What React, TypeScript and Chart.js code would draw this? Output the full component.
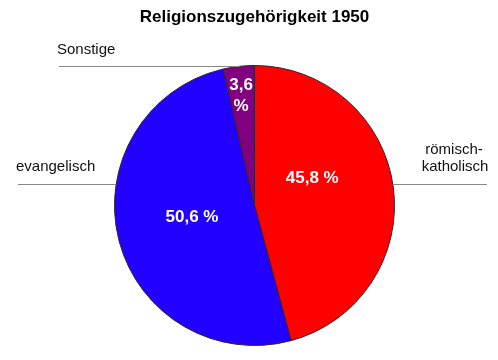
import React, { useEffect, useRef } from "react";
import { Chart, registerables } from "chart.js";

Chart.register(...registerables);

const titleText = "Religionszugehörigkeit 1950";
const categories = ["römisch-katholisch", "evangelisch", "Sonstige"];
const values = [45.8, 50.6, 3.6];
const valueLabels = ["45,8 %", "50,6 %", "3,6\n%"];
const colors = ["#ff0000", "#2200ff", "#800080"];

const FONT = "'Liberation Sans', Arial, Helvetica, sans-serif";

const overlay = {
  id: "overlay",
  afterDraw(chart: any) {
    const ctx = chart.ctx as CanvasRenderingContext2D;
    const meta = chart.getDatasetMeta(0);
    const arcs = meta.data as any[];
    const cx = arcs[0].x;
    const cy = arcs[0].y;
    const R = arcs[0].outerRadius;
    ctx.save();
    // title
    ctx.fillStyle = "#000";
    ctx.font = `bold 17px ${FONT}`;
    ctx.textAlign = "center";
    ctx.textBaseline = "middle";
    ctx.fillText(titleText, cx, 17);

    // in-slice value labels
    ctx.fillStyle = "#fff";
    ctx.font = `bold 17px ${FONT}`;
    const labelPos = [
      { ang: 65, dist: 0.455 },
      { ang: 259, dist: 0.455 },
      { ang: 353, dist: 0.79 },
    ];
    arcs.forEach((arc, i) => {
      const a = (labelPos[i].ang * Math.PI) / 180;
      const x = cx + Math.sin(a) * R * labelPos[i].dist;
      const y = cy - Math.cos(a) * R * labelPos[i].dist;
      const lines = valueLabels[i].split("\n");
      const lh = 21;
      lines.forEach((ln, j) => {
        ctx.fillText(ln, x, y + (j - (lines.length - 1) / 2) * lh);
      });
    });

    // category labels with leader lines
    ctx.strokeStyle = "#888";
    ctx.lineWidth = 1;
    ctx.fillStyle = "#111";
    ctx.font = `15px ${FONT}`;
    // Sonstige
    const topY = cy - R;
    ctx.beginPath();
    ctx.moveTo(59, Math.round(topY) + 0.5);
    ctx.lineTo(cx - 15, Math.round(topY) + 0.5);
    ctx.stroke();
    ctx.textAlign = "left";
    ctx.fillText(categories[2], 57, topY - 16);
    // evangelisch
    const ly = Math.round(cy - 22) + 0.5;
    const dx = Math.sqrt(R * R - 22 * 22);
    ctx.beginPath();
    ctx.moveTo(18, ly);
    ctx.lineTo(cx - dx, ly);
    ctx.stroke();
    ctx.fillText(categories[1], 16, ly - 18);
    // römisch-katholisch
    ctx.beginPath();
    ctx.moveTo(cx + dx, ly);
    ctx.lineTo(487, ly);
    ctx.stroke();
    ctx.textAlign = "center";
    ctx.fillText("römisch-", 454, ly - 35);
    ctx.fillText("katholisch", 455, ly - 18);
    ctx.restore();
  },
};

export default function App() {
  const ref = useRef<HTMLCanvasElement>(null);
  useEffect(() => {
    document.body.style.margin = "0";
    const chart = new Chart(ref.current!, {
      type: "pie",
      data: {
        labels: categories,
        datasets: [
          {
            data: values,
            backgroundColor: colors,
            borderColor: "#3a2030",
            borderWidth: 1,
            hoverOffset: 0,
          },
        ],
      },
      options: {
        animation: false,
        responsive: false,
        events: [],
        layout: { padding: { left: 114, right: 103, top: 65, bottom: 14 } },
        plugins: {
          legend: { display: false },
          title: { display: false },
          tooltip: { enabled: false },
        },
      },
      plugins: [overlay],
    });
    return () => chart.destroy();
  }, []);
  return (
    <div style={{ position: "absolute", left: 0, top: 0, width: 498, height: 360, background: "#fff" }}>
      <canvas ref={ref} width={498} height={360} />
    </div>
  );
}
